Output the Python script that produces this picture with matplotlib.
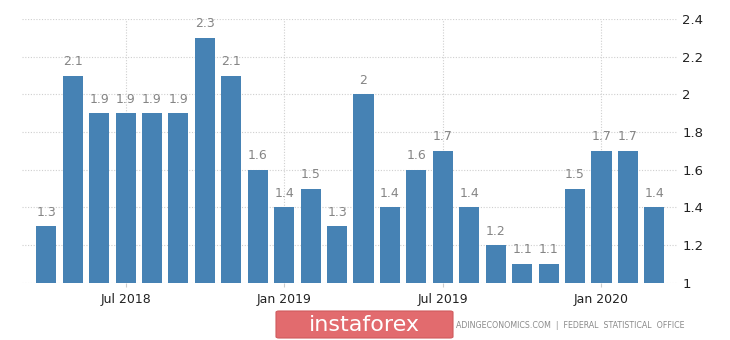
import matplotlib
matplotlib.use("Agg")
import matplotlib.pyplot as plt
from matplotlib.patches import FancyBboxPatch

# monthly values, Apr 2018 .. Mar 2020
months = ["Apr 2018", "May 2018", "Jun 2018", "Jul 2018", "Aug 2018", "Sep 2018",
          "Oct 2018", "Nov 2018", "Dec 2018", "Jan 2019", "Feb 2019", "Mar 2019",
          "Apr 2019", "May 2019", "Jun 2019", "Jul 2019", "Aug 2019", "Sep 2019",
          "Oct 2019", "Nov 2019", "Dec 2019", "Jan 2020", "Feb 2020", "Mar 2020"]
values = [1.3, 2.1, 1.9, 1.9, 1.9, 1.9, 2.3, 2.1, 1.6, 1.4, 1.5, 1.3,
          2.0, 1.4, 1.6, 1.7, 1.4, 1.2, 1.1, 1.1, 1.5, 1.7, 1.7, 1.4]
xtick_labels = ["Jul 2018", "Jan 2019", "Jul 2019", "Jan 2020"]
yticks = [1, 1.2, 1.4, 1.6, 1.8, 2, 2.2, 2.4]

fig = plt.figure(figsize=(7.3, 3.4), dpi=100)
ax = fig.add_axes([0.030, 0.168, 0.899, 0.776])

x = list(range(len(values)))
ax.bar(x, [v - 1 for v in values], bottom=1, width=0.76, color="#4682b4", zorder=3)
for xi, v in zip(x, values):
    ax.text(xi, v + 0.04, "{:g}".format(v), ha="center", va="bottom",
            fontsize=9, color="#858585")

ax.set_xlim(-0.92, 23.9)
ax.set_ylim(1, 2.4)
ax.set_yticks(yticks)
ax.set_yticklabels(["{:g}".format(t) for t in yticks])
ax.yaxis.tick_right()
ax.set_xticks([months.index(m) for m in xtick_labels])
ax.set_xticklabels(xtick_labels)
ax.tick_params(axis="y", length=0, pad=3, labelsize=9.5, colors="#222222")
ax.tick_params(axis="x", length=3, color="#cccccc", pad=4, labelsize=9, colors="#222222")
ax.grid(True, color="#cfcfcf", linestyle=(0, (1, 1.5)), linewidth=0.8, zorder=0)
for s in ax.spines.values():
    s.set_visible(False)

# watermark and source
logo = FancyBboxPatch((276 / 730, 2 / 340), 177 / 730, 27 / 340,
                      boxstyle="round,pad=0,rounding_size=0.004",
                      transform=fig.transFigure, facecolor="#e26b6e",
                      edgecolor="#d05a5d", linewidth=0.8)
fig.patches.append(logo)
fig.text(364 / 730, 15 / 340, "instaforex", ha="center", va="center",
         fontsize=16, color="white")
fig.text(456 / 730, 15 / 340, "ADINGECONOMICS.COM  |  FEDERAL  STATISTICAL  OFFICE",
         ha="left", va="center", fontsize=5.7, color="#8a8a8a")

fig.savefig("out.png", dpi=100)
